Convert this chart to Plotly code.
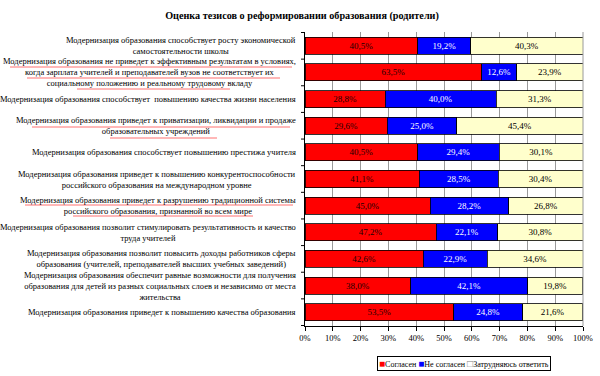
import plotly.graph_objects as go

categories = [
    "Модернизация образования способствует росту экономической<br>самостоятельности школы",
    "Модернизация образования не приведет к эффективным результатам в условиях,<br>когда зарплата учителей и преподавателей вузов не соответствует их<br>социальному положению и реальному трудовому вкладу",
    "Модернизация образования способствует  повышению качества жизни населения",
    "Модернизация образования приведет к приватизации, ликвидации и продаже<br>образовательных учреждений",
    "Модернизация образования способствует повышению престижа учителя",
    "Модернизация образования приведет к повышению конкурентоспособности<br>российского образования на международном уровне",
    "Модернизация образования приведет к разрушению традиционной системы<br>российского образования, признанной во всем мире",
    "Модернизация образования позволит стимулировать результативность и качество<br>труда учителей",
    "Модернизация образования позволит повысить доходы работников сферы<br>образования (учителей, преподавателей высших учебных заведений)",
    "Модернизация образования обеспечит равные возможности для получения<br>образования для детей из разных социальных слоев и независимо от места<br>жительства",
    "Модернизация образования приведет к повышению качества образования",
]
agree = [40.5, 63.5, 28.8, 29.6, 40.5, 41.1, 45.0, 47.2, 42.6, 38.0, 53.5]
disagree = [19.2, 12.6, 40.0, 25.0, 29.4, 28.5, 28.2, 22.1, 22.9, 42.1, 24.8]
unsure = [40.3, 23.9, 31.3, 45.4, 30.1, 30.4, 26.8, 30.8, 34.6, 19.8, 21.6]
series_names = ["Согласен", "Не согласен", "Затрудняюсь ответить"]
series_colors = ["#FF0000", "#0000FF", "#FFFFCC"]
tick_vals = [0, 10, 20, 30, 40, 50, 60, 70, 80, 90, 100]

FONT = "Liberation Serif"
idx = list(range(len(categories)))

# figure geometry (body margin removed via post_script)
W, H = 600, 376
ML, MR, MT, MB = 305, 17, 32, 50
PW, PH = W - ML - MR, H - MT - MB

def px(xp):  # page x pixel -> paper x
    return (xp - ML) / PW

def py(yp):  # page y pixel -> paper y
    return (H - MB - yp) / PH

def fmt(v):
    return f"{v:.1f}%".replace(".", ",")

fig = go.Figure()
for name, vals, color, tcol in [
    (series_names[0], agree, series_colors[0], "#200000"),
    (series_names[1], disagree, series_colors[1], "#FFFFFF"),
    (series_names[2], unsure, series_colors[2], "#000000"),
]:
    fig.add_trace(go.Bar(
        y=idx, x=vals, name=name, orientation="h",
        marker=dict(color=color, line=dict(color="#000000", width=0.8)),
        text=[fmt(v) for v in vals], textposition="inside",
        insidetextanchor="middle", textangle=0,
        textfont=dict(family=FONT, size=9, color=tcol),
        hoverinfo="skip", showlegend=False,
    ))

for i, c in enumerate(categories):
    fig.add_annotation(
        x=px(298), xref="paper", y=i, yref="y",
        text=c, showarrow=False, xanchor="right", yanchor="middle",
        align="center", font=dict(family=FONT, size=8.5, color="#000000"),
    )

# legend drawn as a bordered text box
legend_text = (
    f"<span style='color:{series_colors[0]};font-size:10px'>■</span>{series_names[0]} "
    f"<span style='color:{series_colors[1]};font-size:10px'>■</span>{series_names[1]} "
    f"<span style='color:#808080;font-size:10px'>□</span>{series_names[2]}"
)
fig.add_annotation(
    x=px(464), xref="paper", y=py(363), yref="paper", xanchor="center", yanchor="middle",
    text=legend_text, showarrow=False, bordercolor="#000000", borderwidth=1,
    borderpad=1, bgcolor="#FFFFFF",
    font=dict(family=FONT, size=8, color="#000000"),
)

fig.update_layout(
    width=W, height=H,
    barmode="stack", bargap=0.36,
    font=dict(family=FONT, color="#000000"),
    plot_bgcolor="#FFFFFF", paper_bgcolor="#FFFFFF",
    margin=dict(l=ML, r=MR, t=MT, b=MB, autoexpand=False),
    title=dict(text="<b>Оценка тезисов о реформировании образования (родители)</b>",
               x=302 / W, xanchor="center", xref="container",
               y=1 - 15 / H, yanchor="middle", yref="container",
               font=dict(family=FONT, size=10.2, color="#000000")),
    xaxis=dict(range=[0, 100], tickvals=tick_vals,
               ticktext=[f"{t}%" for t in tick_vals],
               showgrid=True, gridcolor="#9a9a9a", gridwidth=1,
               showline=True, linecolor="#000000", linewidth=1,
               ticks="outside", ticklen=4, tickcolor="#000000",
               tickfont=dict(family=FONT, size=8.5, color="#000000"),
               zeroline=False, fixedrange=True),
    yaxis=dict(tickvals=idx, ticktext=[""] * len(idx), autorange="reversed",
               showline=True, linecolor="#000000", linewidth=1,
               ticks="", showgrid=False, zeroline=False, fixedrange=True),
    showlegend=False,
)

# left-axis tick marks at category boundaries
for i in range(len(categories) + 1):
    fig.add_shape(type="line", xref="paper", yref="y", x0=-4 / PW, x1=0,
                  y0=i - 0.5, y1=i - 0.5, line=dict(color="#000000", width=1))

# right border of plot area
fig.add_shape(type="line", xref="paper", yref="paper", x0=1, x1=1, y0=0, y1=1,
              line=dict(color="#9a9a9a", width=1))

# spell-check underlines seen under some labels (page pixel positions)
underlines = [
    (10, 292, 67), (27, 280, 78), (77, 230, 89),
    (32, 290, 127), (110, 217, 138),
    (25, 293, 205), (73, 253, 216),
]
for x0, x1, yy in underlines:
    fig.add_shape(type="line", xref="paper", yref="paper",
                  x0=px(x0), x1=px(x1), y0=py(yy), y1=py(yy),
                  line=dict(color="#FF7070", width=1))

fig.write_html("out.html", config={"displayModeBar": False},
               post_script="document.body.style.margin='0';")
